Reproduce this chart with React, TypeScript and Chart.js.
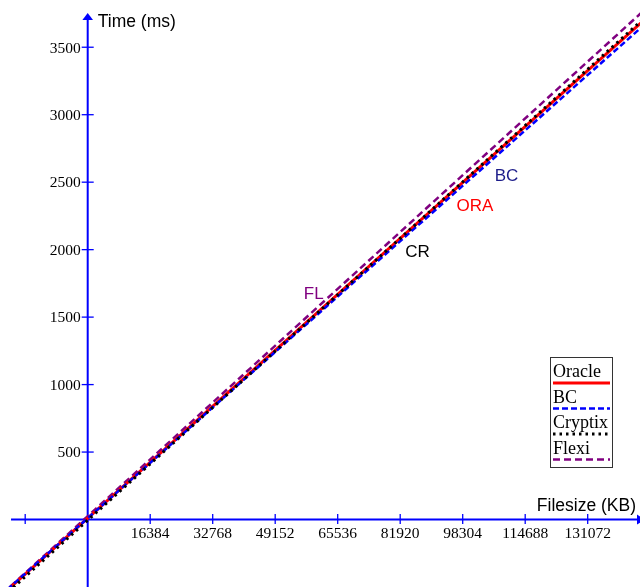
import React, { useEffect, useRef } from 'react';
import { Chart, registerables } from 'chart.js';

Chart.register(...registerables);

// ---- data ----
const FILESIZE_KB = [-24576, 147456];
const ORACLE_MS = [-612, 3742];
const BC_MS = [-606, 3705];
const CRYPTIX_MS = [-632, 3755];
const FLEXI_MS = [-607, 3815];
const SERIES_NAMES = ['Oracle', 'BC', 'Cryptix', 'Flexi'];

const X_TICKS = [-16384, 16384, 32768, 49152, 65536, 81920, 98304, 114688, 131072];
const X_TICK_LABELS = ['', '16384', '32768', '49152', '65536', '81920', '98304', '114688', '131072'];
const Y_TICKS = [500, 1000, 1500, 2000, 2500, 3000, 3500];
const Y_TICK_LABELS = ['500', '1000', '1500', '2000', '2500', '3000', '3500'];

const X_TITLE = 'Filesize (KB)';
const Y_TITLE = 'Time (ms)';

const LINE_TAG_TEXT = ['FL', 'CR', 'ORA', 'BC'];
const LINE_TAG_X = [59244, 86454, 101530, 109780];
const LINE_TAG_Y = [1632, 1948, 2289, 2511];
const LINE_TAG_COLOR = ['#800080', '#000000', '#ff0000', '#1c1c8a'];

// ---- view ----
const X_MIN = -22990;
const X_MAX = 144782;
const Y_MIN = -500;
const Y_MAX = 3850;
const X_AXIS_START = -20100;

const SERIF = "'Liberation Serif', 'Times New Roman', serif";
const SANS = "'Liberation Sans', Arial, sans-serif";

const STYLES = [
  { color: '#ff0000', width: 3, dash: [] as number[] },
  { color: '#0000ff', width: 2.5, dash: [6, 3] },
  { color: '#000000', width: 3, dash: [2.5, 4] },
  { color: '#800080', width: 2.5, dash: [7, 4] },
];

const axesPlugin = {
  id: 'customAxes',
  beforeDatasetsDraw(chart: any) {
    const ctx = chart.ctx;
    const xs = chart.scales.x;
    const ys = chart.scales.y;
    const { top, bottom, right } = chart.chartArea;
    const x0 = xs.getPixelForValue(0);
    const y0 = ys.getPixelForValue(0);
    ctx.save();
    ctx.strokeStyle = '#0000ff';
    ctx.fillStyle = '#0000ff';
    ctx.lineWidth = 2;
    // x axis
    ctx.beginPath();
    ctx.moveTo(xs.getPixelForValue(X_AXIS_START), y0);
    ctx.lineTo(right, y0);
    ctx.stroke();
    ctx.beginPath();
    ctx.moveTo(right + 5, y0);
    ctx.lineTo(right - 3, y0 - 5);
    ctx.lineTo(right - 3, y0 + 5);
    ctx.closePath();
    ctx.fill();
    // y axis
    ctx.beginPath();
    ctx.moveTo(x0, bottom);
    ctx.lineTo(x0, top + 18);
    ctx.stroke();
    ctx.beginPath();
    ctx.moveTo(x0, top + 13);
    ctx.lineTo(x0 - 5.3, top + 20);
    ctx.lineTo(x0 + 5.3, top + 20);
    ctx.closePath();
    ctx.fill();
    // ticks
    ctx.lineWidth = 1.3;
    X_TICKS.forEach((v) => {
      const px = xs.getPixelForValue(v);
      ctx.beginPath();
      ctx.moveTo(px, y0 - 5.5);
      ctx.lineTo(px, y0 + 4.5);
      ctx.stroke();
    });
    Y_TICKS.forEach((v) => {
      const py = ys.getPixelForValue(v);
      ctx.beginPath();
      ctx.moveTo(x0 - 6, py);
      ctx.lineTo(x0 + 6, py);
      ctx.stroke();
    });
    ctx.restore();
  },
  afterDatasetsDraw(chart: any) {
    const ctx = chart.ctx;
    const xs = chart.scales.x;
    const ys = chart.scales.y;
    const x0 = xs.getPixelForValue(0);
    const y0 = ys.getPixelForValue(0);
    ctx.save();
    // tick labels
    ctx.fillStyle = '#000000';
    ctx.font = `15.5px ${SERIF}`;
    ctx.textBaseline = 'alphabetic';
    ctx.textAlign = 'center';
    X_TICKS.forEach((v, i) => {
      if (!X_TICK_LABELS[i]) return;
      ctx.fillText(X_TICK_LABELS[i], xs.getPixelForValue(v), y0 + 18);
    });
    ctx.textAlign = 'right';
    Y_TICKS.forEach((v, i) => {
      ctx.fillText(Y_TICK_LABELS[i], x0 - 7, ys.getPixelForValue(v) + 5.3);
    });
    // titles
    ctx.font = `17.5px ${SANS}`;
    ctx.textAlign = 'left';
    ctx.fillText(Y_TITLE, x0 + 10, chart.chartArea.top + 27);
    ctx.textAlign = 'right';
    ctx.fillText(X_TITLE, chart.chartArea.right - 4, y0 - 9);
    // line tags
    ctx.font = `17px ${SANS}`;
    ctx.textAlign = 'center';
    LINE_TAG_TEXT.forEach((t, i) => {
      ctx.fillStyle = LINE_TAG_COLOR[i];
      ctx.fillText(t, xs.getPixelForValue(LINE_TAG_X[i]), ys.getPixelForValue(LINE_TAG_Y[i]));
    });
    // legend
    const lx = 550.5, ly = 357.5, lw = 62, lh = 110;
    ctx.fillStyle = '#ffffff';
    ctx.fillRect(lx, ly, lw, lh);
    ctx.strokeStyle = '#333333';
    ctx.lineWidth = 1;
    ctx.strokeRect(lx, ly, lw, lh);
    ctx.font = `18px ${SERIF}`;
    ctx.textAlign = 'left';
    SERIES_NAMES.forEach((name, i) => {
      const baseY = 377 + i * 25.5;
      ctx.fillStyle = '#000000';
      ctx.fillText(name, 553, baseY);
      const st = STYLES[i];
      ctx.strokeStyle = st.color;
      ctx.lineWidth = st.width;
      ctx.setLineDash(st.dash);
      ctx.beginPath();
      ctx.moveTo(553, baseY + 6);
      ctx.lineTo(610, baseY + 6);
      ctx.stroke();
      ctx.setLineDash([]);
    });
    ctx.restore();
  },
};

export default function App() {
  const ref = useRef<HTMLCanvasElement>(null);
  useEffect(() => {
    if (!ref.current) return;
    const seriesValues = [ORACLE_MS, BC_MS, CRYPTIX_MS, FLEXI_MS];
    const orders = [3, 2, 1, 4];
    const chart = new Chart(ref.current, {
      type: 'line',
      data: {
        datasets: SERIES_NAMES.map((name, i) => ({
          label: name,
          data: FILESIZE_KB.map((x, j) => ({ x, y: seriesValues[i][j] })),
          borderColor: STYLES[i].color,
          borderWidth: STYLES[i].width,
          borderDash: STYLES[i].dash,
          pointRadius: 0,
          tension: 0,
          fill: false,
          order: orders[i],
        })),
      },
      options: {
        animation: false,
        responsive: false,
        events: [],
        layout: { padding: 0 },
        plugins: { legend: { display: false }, tooltip: { enabled: false } },
        scales: {
          x: { type: 'linear', min: X_MIN, max: X_MAX, display: false },
          y: { type: 'linear', min: Y_MIN, max: Y_MAX, display: false },
        },
      },
      plugins: [axesPlugin],
    });
    return () => chart.destroy();
  }, []);
  return (
    <div style={{ position: 'fixed', left: 0, top: 0, width: 640, height: 587, background: '#fff' }}>
      <canvas ref={ref} width={640} height={587} style={{ display: 'block' }} />
    </div>
  );
}
